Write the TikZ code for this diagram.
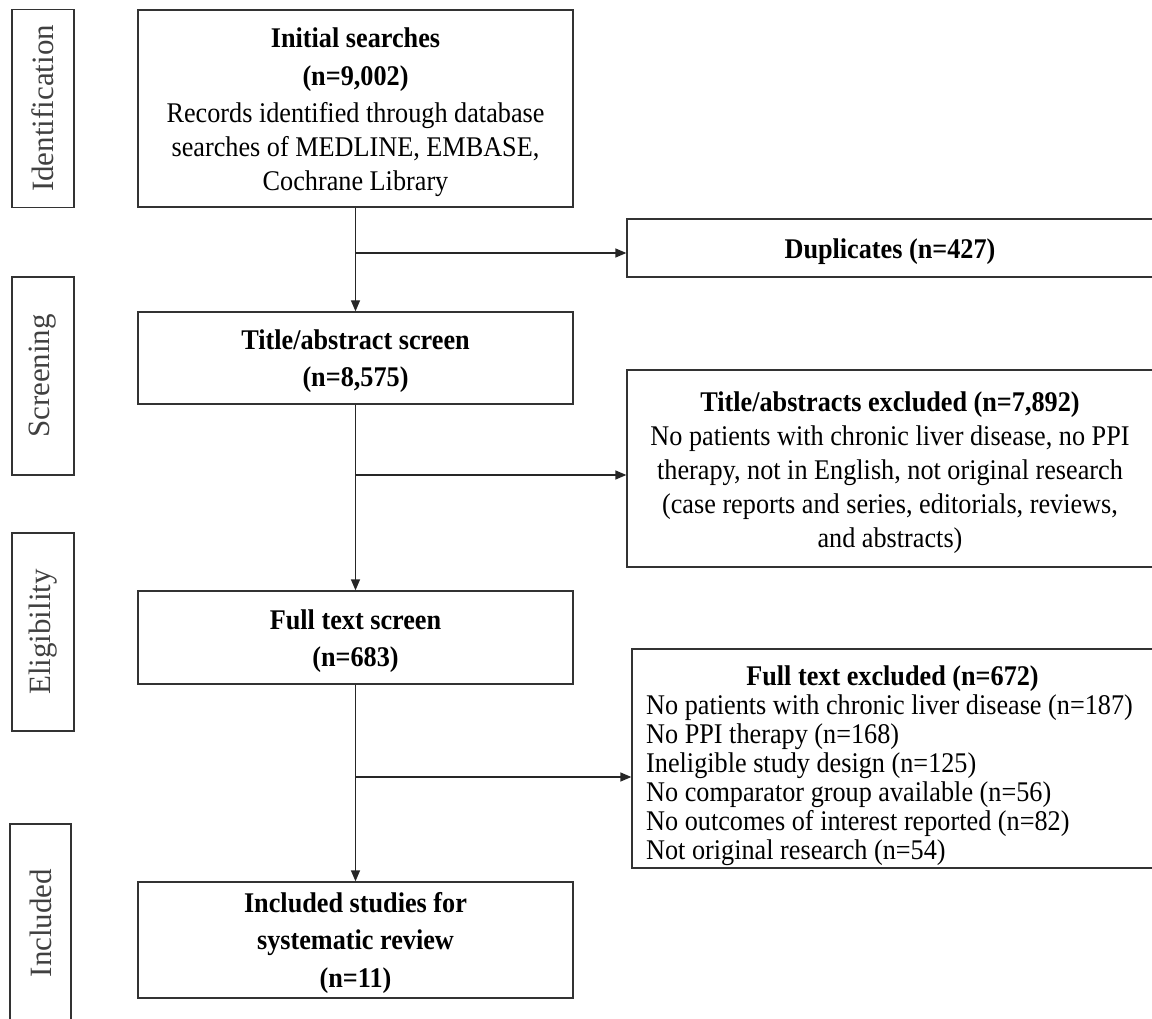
\documentclass[tikz,border=0pt]{standalone}
\usepackage{fontspec}
\setmainfont[FakeStretch=0.92]{Liberation Serif}
\newfontfamily\sidefont{Liberation Serif}
\usetikzlibrary{arrows.meta}
\begin{document}
\begin{tikzpicture}[x=1pt,y=-1pt,
  box/.style={draw=black!80, line width=1.3pt, rectangle, inner sep=0pt},
  sidebox/.style={box, minimum width=62pt, minimum height=198pt},
  sidelabel/.style={rotate=90, inner sep=0pt, text=black!75,
    font=\sidefont\fontsize{31pt}{34pt}\selectfont},
  mainbox/.style={box, minimum width=435pt},
  rightbox/.style={box, minimum width=526pt},
  txt/.style={inner sep=0pt, align=center, font=\fontsize{28.5pt}{34pt}\selectfont},
  btxt/.style={inner sep=0pt, align=center, font=\bfseries\fontsize{28.5pt}{37.5pt}\selectfont},
  listtxt/.style={inner sep=0pt, align=left, font=\fontsize{28.5pt}{29pt}\selectfont},
  flow/.style={draw=black!85, line width=1.3pt},
  arr/.style={flow, -{Triangle[length=11pt,width=9pt]}}
]
\useasboundingbox (0,0) rectangle (1152,1019);

% side stage boxes
\node[sidebox] (sid) at (43,108.5) {};
\node[sidelabel] (sidt) at (sid.center) {Identification};
\node[sidebox] (sscr) at (43,376) {};
\node[sidelabel] (sscrt) at (sscr.center) {Screening};
\node[sidebox] (selg) at (43,632) {};
\node[sidelabel] (selgt) at (selg.center) {Eligibility};
\node[sidebox, minimum width=61pt] (sinc) at (40.5,923) {};
\node[sidelabel] (sinct) at (sinc.center) {Included};

% main column
\node[mainbox, minimum height=197pt] (init) at (355.5,108.5) {};
\node[txt] (initt) at (355.5,112)
  {\textbf{Initial searches}\\[3.5pt]\textbf{(n=9,002)}\\[3pt]Records identified through database\\searches of MEDLINE, EMBASE,\\Cochrane Library};
\node[mainbox, minimum height=92pt] (title) at (355.5,358) {};
\node[btxt] (titlet) at (355.5,361) {Title/abstract screen\\(n=8,575)};
\node[mainbox, minimum height=93pt] (full) at (355.5,637.5) {};
\node[btxt] (fullt) at (355.5,641) {Full text screen\\(n=683)};
\node[mainbox, minimum height=116pt] (incl) at (355.5,940) {};
\node[btxt] (inclt) at (355.5,942.5) {Included studies for\\systematic review\\(n=11)};

% right column
\node[rightbox, minimum height=58pt] (dup) at (890,248) {};
\node[btxt] (dupt) at (890,251.5) {Duplicates (n=427)};
\node[rightbox, minimum height=197pt] (tex) at (890,468.5) {};
\node[txt] (text) at (890,473)
  {\textbf{Title/abstracts excluded (n=7,892)}\\No patients with chronic liver disease, no PPI\\therapy, not in English, not original research\\(case reports and series, editorials, reviews,\\and abstracts)};
\node[box, minimum width=521pt, minimum height=219pt] (fex) at (892.5,758.5) {};
\node[btxt, anchor=base] (fext) at (892.5,685) {Full text excluded (n=672)};
\node[listtxt, anchor=base west] (fexl) at (646,714)
  {No patients with chronic liver disease (n=187)};
\node[listtxt, anchor=base west] (fexl2) at (646,743) {No PPI therapy (n=168)};
\node[listtxt, anchor=base west] (fexl3) at (646,772) {Ineligible study design (n=125)};
\node[listtxt, anchor=base west] (fexl4) at (646,801) {No comparator group available (n=56)};
\node[listtxt, anchor=base west] (fexl5) at (646,830) {No outcomes of interest reported (n=82)};
\node[listtxt, anchor=base west] (fexl6) at (646,859) {Not original research (n=54)};

% connectors
\coordinate (b1) at (355.5,253);
\coordinate (b2) at (355.5,475);
\coordinate (b3) at (355.5,777);
\draw[arr] (init.south) -- (title.north);
\draw[arr] (b1) -- (b1 -| dup.west);
\draw[arr] (title.south) -- (full.north);
\draw[arr] (b2) -- (b2 -| tex.west);
\draw[arr] (full.south) -- (incl.north);
\draw[arr] (b3) -- (b3 -| fex.west);
\end{tikzpicture}
\end{document}
